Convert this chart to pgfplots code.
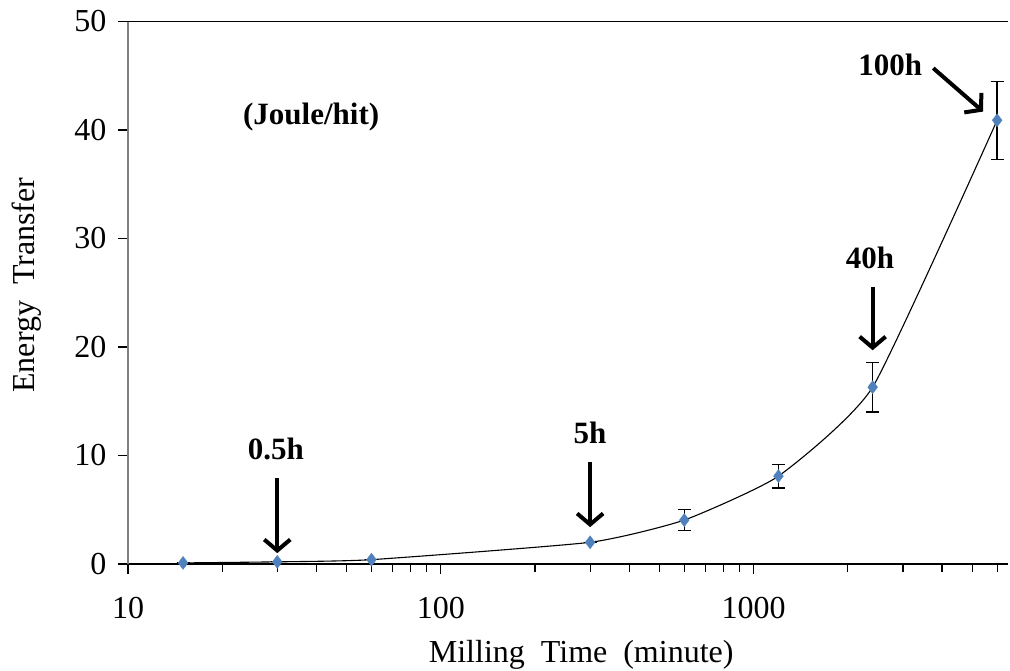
\documentclass[border=0pt]{standalone}
\usepackage{fontspec}
\setmainfont{Liberation Serif}
\usepackage{pgfplots}
\pgfplotsset{compat=1.18}
\usetikzlibrary{arrows.meta}
\definecolor{mk}{RGB}{79,129,189}
\pgfplotstableread{
x y e
15 0.1 0
30 0.2 0
60 0.4 0
300 2.0 0
600 4.05 0.97
1200 8.1 1.1
2400 16.3 2.3
6000 40.9 3.6
}\datatab
\begin{document}
\begin{tikzpicture}
\begin{axis}[
 scale only axis, width=880pt, height=542.5pt,
 xmode=log, xmin=10, xmax=6500, ymin=0, ymax=50,
 axis x line*=bottom, axis y line*=left,
 x axis line style={black, line width=1.3pt, -},
 y axis line style={gray, line width=1.3pt, -},
 xtick={10,100,1000}, xticklabels={10,100,1000},
 minor xtick={20,30,40,50,60,70,80,90,200,300,400,500,600,700,800,900,2000,3000,4000,5000,6000},
 ytick={0,10,20,30,40,50},
 tick align=outside,
 major tick length=10pt, minor tick length=8pt,
 every tick/.style={black, line width=1.2pt},
 ticklabel style={font=\fontsize{32}{38}\selectfont},
 xticklabel style={yshift=-20pt},
 yticklabel style={xshift=-8pt},
 /pgf/number format/assume math mode=true,
 xlabel={Milling\ \ Time\ \ (minute)},
 ylabel={Energy\ \ Transfer},
 xlabel style={font=\fontsize{32}{38}\selectfont, at={(rel axis cs:0.515,0)}, anchor=base, yshift=-98pt},
 ylabel style={font=\fontsize{32}{38}\selectfont, at={(rel axis cs:0,0.514)}, anchor=base, yshift=94pt},
 clip=false,
]
\coordinate (O) at (rel axis cs:0,0);
\draw[black, line width=1.5pt] (rel axis cs:0,1) -- (rel axis cs:1,1);
\addplot[black, line width=1.1pt, smooth, tension=0.3, no marks] table[x=x, y=y] {\datatab};
\addplot[only marks, mark=diamond*, mark size=6.5pt, mk, mark options={fill=mk, draw=mk},
  error bars/.cd, y dir=both, y explicit,
  error mark options={rotate=90, mark size=6.5pt, line width=1.3pt, black},
  error bar style={line width=1.3pt, black}]
  table[x=x, y=y, y error=e] {\datatab};
\begin{scope}[font=\bfseries\fontsize{31}{36}\selectfont]
\node at (axis cs:38.5,41.2) {(Joule/hit)};
\node at (axis cs:29.7,10.6) {0.5h};
\node at (axis cs:300,12.1) {5h};
\node at (axis cs:2355,28.2) {40h};
\node at (axis cs:2730,46.0) {100h};
\end{scope}
\begin{scope}[line width=4pt, -{Straight Barb[length=11pt,width=26pt]}]
\draw (axis cs:30,7.9) -- (axis cs:30,1.0);
\draw (axis cs:300,9.4) -- (axis cs:300,3.4);
\draw (axis cs:2400,25.5) -- (axis cs:2400,19.7);
\draw (axis cs:3750,45.7) -- (axis cs:5410,41.7);
\end{scope}
\end{axis}
\pgfresetboundingbox
\path (O) ++(-128pt,-106pt) rectangle ++(1010pt,670pt);
\end{tikzpicture}
\end{document}
